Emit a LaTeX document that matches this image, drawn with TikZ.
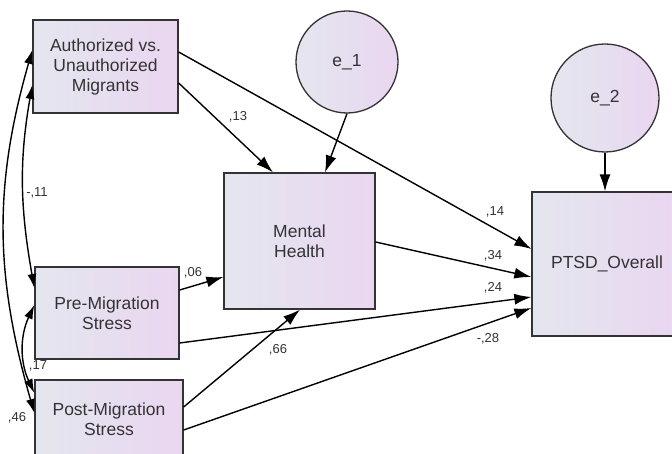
\documentclass[tikz,border=0pt]{standalone}
\usepackage{fontspec}
\setmainfont{Liberation Sans}
\usetikzlibrary{arrows.meta}
\definecolor{boxleft}{HTML}{E4E6EF}
\definecolor{boxright}{HTML}{EAD6F0}
\definecolor{edge}{HTML}{333333}
\tikzset{
  var/.style={draw=edge,line width=1.3pt,left color=boxleft,right color=boxright,align=center,inner sep=2pt,font=\fontsize{17.5}{20}\selectfont,text=edge},
  err/.style={var,circle},
  effect/.style={line width=1.4pt,-{Latex[length=17pt,width=11pt]}},
  cov/.style={line width=1.4pt,{Latex[length=14pt,width=9pt]}-{Latex[length=14pt,width=9pt]}},
  coef/.style={font=\fontsize{13}{15}\selectfont,text=edge,inner sep=0pt}
}
\begin{document}
\begin{tikzpicture}[x=1pt,y=-1pt]
\useasboundingbox (0,0) rectangle (672,454);
\clip (0,0) rectangle (672,454);
% observed variables
\node[var,minimum width=145pt,minimum height=93pt] (auth) at (105.5,66.5) {Authorized vs.\\Unauthorized\\Migrants};
\node[var,minimum width=144pt,minimum height=92pt] (pre) at (107,313) {Pre-Migration\\Stress};
\node[var,minimum width=148pt,minimum height=79pt] (post) at (109,419.5) {Post-Migration\\Stress};
\node[var,minimum width=151pt,minimum height=136pt] (mh) at (299.5,241) {Mental\\Health};
\node[var,minimum width=150pt,minimum height=144pt] (ptsd) at (607,264) {PTSD\_Overall};
% error terms
\node[err,minimum size=102pt] (e1) at (347,62) {e\_1};
\node[err,minimum size=108pt] (e2) at (605,98) {e\_2};
% paths
\draw[effect] ([yshift=-16.5pt]auth.east) -- ([xshift=-26.5pt]mh.north);
\draw[effect] ([yshift=14.5pt]auth.east) -- ([yshift=15pt]ptsd.west);
\draw[effect] (e1.south) -- ([xshift=25.5pt]mh.north);
\draw[effect] (e2.south) -- (e2.south |- ptsd.north);
\draw[effect] ([yshift=-1pt]mh.east) -- ([yshift=-13pt]ptsd.west);
\draw[effect] ([yshift=-30pt]pre.east) -- ([yshift=-33pt]ptsd.west);
\draw[effect] ([yshift=-10.5pt]post.east) -- ([yshift=-44pt]ptsd.west);
\draw[effect] ([yshift=23pt]pre.east) -- ([yshift=-36pt]mh.west);
\draw[effect] ([yshift=12.5pt]post.east) -- ([xshift=0.5pt]mh.south);
% covariances
\draw[cov] ([yshift=-18.5pt]auth.west) to[out=-100,in=100] ([yshift=25pt]pre.west);
\draw[cov] ([yshift=16.5pt]auth.west) to[out=-106,in=106] ([yshift=6.5pt]post.west);
\draw[cov] ([yshift=8pt]pre.west) to[out=-115,in=115] ([yshift=26.5pt]post.west);
% coefficients
\node[coef] (c13) at (238,117) {,13};
\node[coef] (c14) at (495,212) {,14};
\node[coef] (c34) at (493,256) {,34};
\node[coef] (c24) at (493,288) {,24};
\node[coef] (c28) at (488,339) {-,28};
\node[coef] (c06) at (193,273) {,06};
\node[coef] (c66) at (278,350) {,66};
\node[coef] (c11) at (37,193) {-,11};
\node[coef] (c46) at (17,418) {,46};
\node[coef] (c17) at (38,366) {,17};
\end{tikzpicture}
\end{document}
